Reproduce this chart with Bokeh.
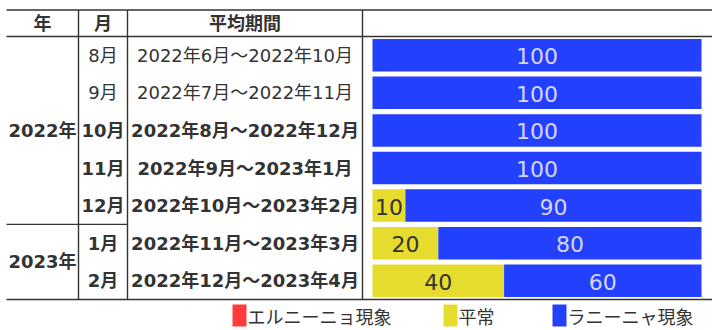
from bokeh.plotting import figure
from bokeh.models import Range1d, ColumnDataSource
from bokeh.core.properties import value
from bokeh.embed import file_html
from bokeh.resources import INLINE

# ---------------- data ----------------
header_labels = ["年", "月", "平均期間"]
year_labels = ["2022年", "2023年"]
year_rows = [[0, 1, 2, 3, 4], [5, 6]]
months = ["8月", "9月", "10月", "11月", "12月", "1月", "2月"]
periods = ["2022年6月～2022年10月", "2022年7月～2022年11月", "2022年8月～2022年12月",
           "2022年9月～2023年1月", "2022年10月～2023年2月", "2022年11月～2023年3月",
           "2022年12月～2023年4月"]
bold_rows = [False, False, True, True, True, True, True]
series_names = ["エルニーニョ現象", "平常", "ラニーニャ現象"]
el_nino = [0, 0, 0, 0, 0, 0, 0]
normal = [0, 0, 0, 0, 10, 20, 40]
la_nina = [100, 100, 100, 100, 90, 80, 60]
series_colors = ["#FF3B3B", "#E6DC2E", "#2340FF"]
label_colors = ["#F0F0F0", "#333333", "#D4D6F4"]

# ---------------- layout constants ----------------
W, H = 712, 330
FONT = value("DejaVu Sans, Noto Sans CJK JP")
TXT = "#333333"
top_y, head_y, bot_y = 9.5, 36, 299
row_h = (bot_y - head_y) / len(months)
col_x = [6, 78, 127, 362, W]
bar_x0, bar_x1 = 372, 701
bar_h = 32.5

p = figure(width=W, height=H, x_range=Range1d(0, W), y_range=Range1d(H, 0),
           output_backend="svg", toolbar_location=None, min_border=0,
           x_axis_location=None, y_axis_location=None)
p.grid.visible = False
p.outline_line_color = None
p.background_fill_color = "white"
p.border_fill_color = "white"

scale = (bar_x1 - bar_x0) / 100.0
p.extra_x_ranges = {"pct": Range1d(start=-bar_x0 / scale, end=(W - bar_x0) / scale)}

def row_center(i):
    return head_y + row_h * (i + 0.5)

# ---------------- bars ----------------
ys = [row_center(i) for i in range(len(months))]
series = [el_nino, normal, la_nina]
left = [0] * len(months)
for name, vals, col, lcol in zip(series_names, series, series_colors, label_colors):
    right = [l + v for l, v in zip(left, vals)]
    src = ColumnDataSource(dict(y=ys, left=left, right=right, v=vals))
    p.hbar(y="y", left="left", right="right", height=bar_h, source=src,
           fill_color=col, line_color=None, x_range_name="pct")
    lab = dict(x=[], y=[], t=[])
    for yy, l, r, v in zip(ys, left, right, vals):
        if v > 0:
            lab["x"].append((l + r) / 2)
            lab["y"].append(yy + 1)
            lab["t"].append(str(v))
    p.text(x="x", y="y", text="t", source=ColumnDataSource(lab), x_range_name="pct",
           text_align="center", text_baseline="middle",
           text_font=value("DejaVu Sans"),
           text_font_size="22px", text_color=lcol)
    left = right

# ---------------- table lines ----------------
for yv in (top_y, head_y, bot_y):
    p.segment(x0=col_x[0], y0=yv, x1=W, y1=yv, line_color="#333333", line_width=1.4)
sep_y = head_y + row_h * year_rows[1][0]
p.segment(x0=col_x[0], y0=sep_y, x1=col_x[2], y1=sep_y, line_color="#333333", line_width=1.4)
for xv in col_x[1:4]:
    p.segment(x0=xv, y0=top_y, x1=xv, y1=bot_y, line_color="#333333", line_width=1.4)

# ---------------- header ----------------
head_cx = [(col_x[0] + col_x[1]) / 2, (col_x[1] + col_x[2]) / 2, (col_x[2] + col_x[3]) / 2]
p.text(x=head_cx, y=[(top_y + head_y) / 2 + 0.5] * 3, text=header_labels,
       text_align="center", text_baseline="middle", text_font=FONT,
       text_font_size="18px", text_font_style="bold", text_color=TXT)

# ---------------- rows ----------------
for i, (m, per, b) in enumerate(zip(months, periods, bold_rows)):
    style = "bold" if b else "normal"
    p.text(x=[head_cx[1], head_cx[2]], y=[row_center(i)] * 2, text=[m, per],
           text_align="center", text_baseline="middle", text_font=FONT,
           text_font_size="18px", text_font_style=style, text_color=TXT)

yr_y = [row_center(2), (row_center(5) + row_center(6)) / 2]
p.text(x=[head_cx[0]] * 2, y=yr_y, text=year_labels, text_align="center",
       text_baseline="middle", text_font=FONT, text_font_size="18px",
       text_font_style="bold", text_color=TXT)

# ---------------- legend ----------------
leg_x = [232, 443, 552]
leg_y = 315
p.rect(x=[x + 7 for x in leg_x], y=[leg_y] * 3, width=14, height=22,
       fill_color=series_colors, line_color=None)
p.text(x=[x + 15 for x in leg_x], y=[leg_y] * 3, text=series_names,
       text_align="left", text_baseline="middle", text_font=value("Noto Sans CJK JP"),
       text_font_size="18px", text_color=TXT)

open("out.html", "w").write(file_html(p, INLINE))
